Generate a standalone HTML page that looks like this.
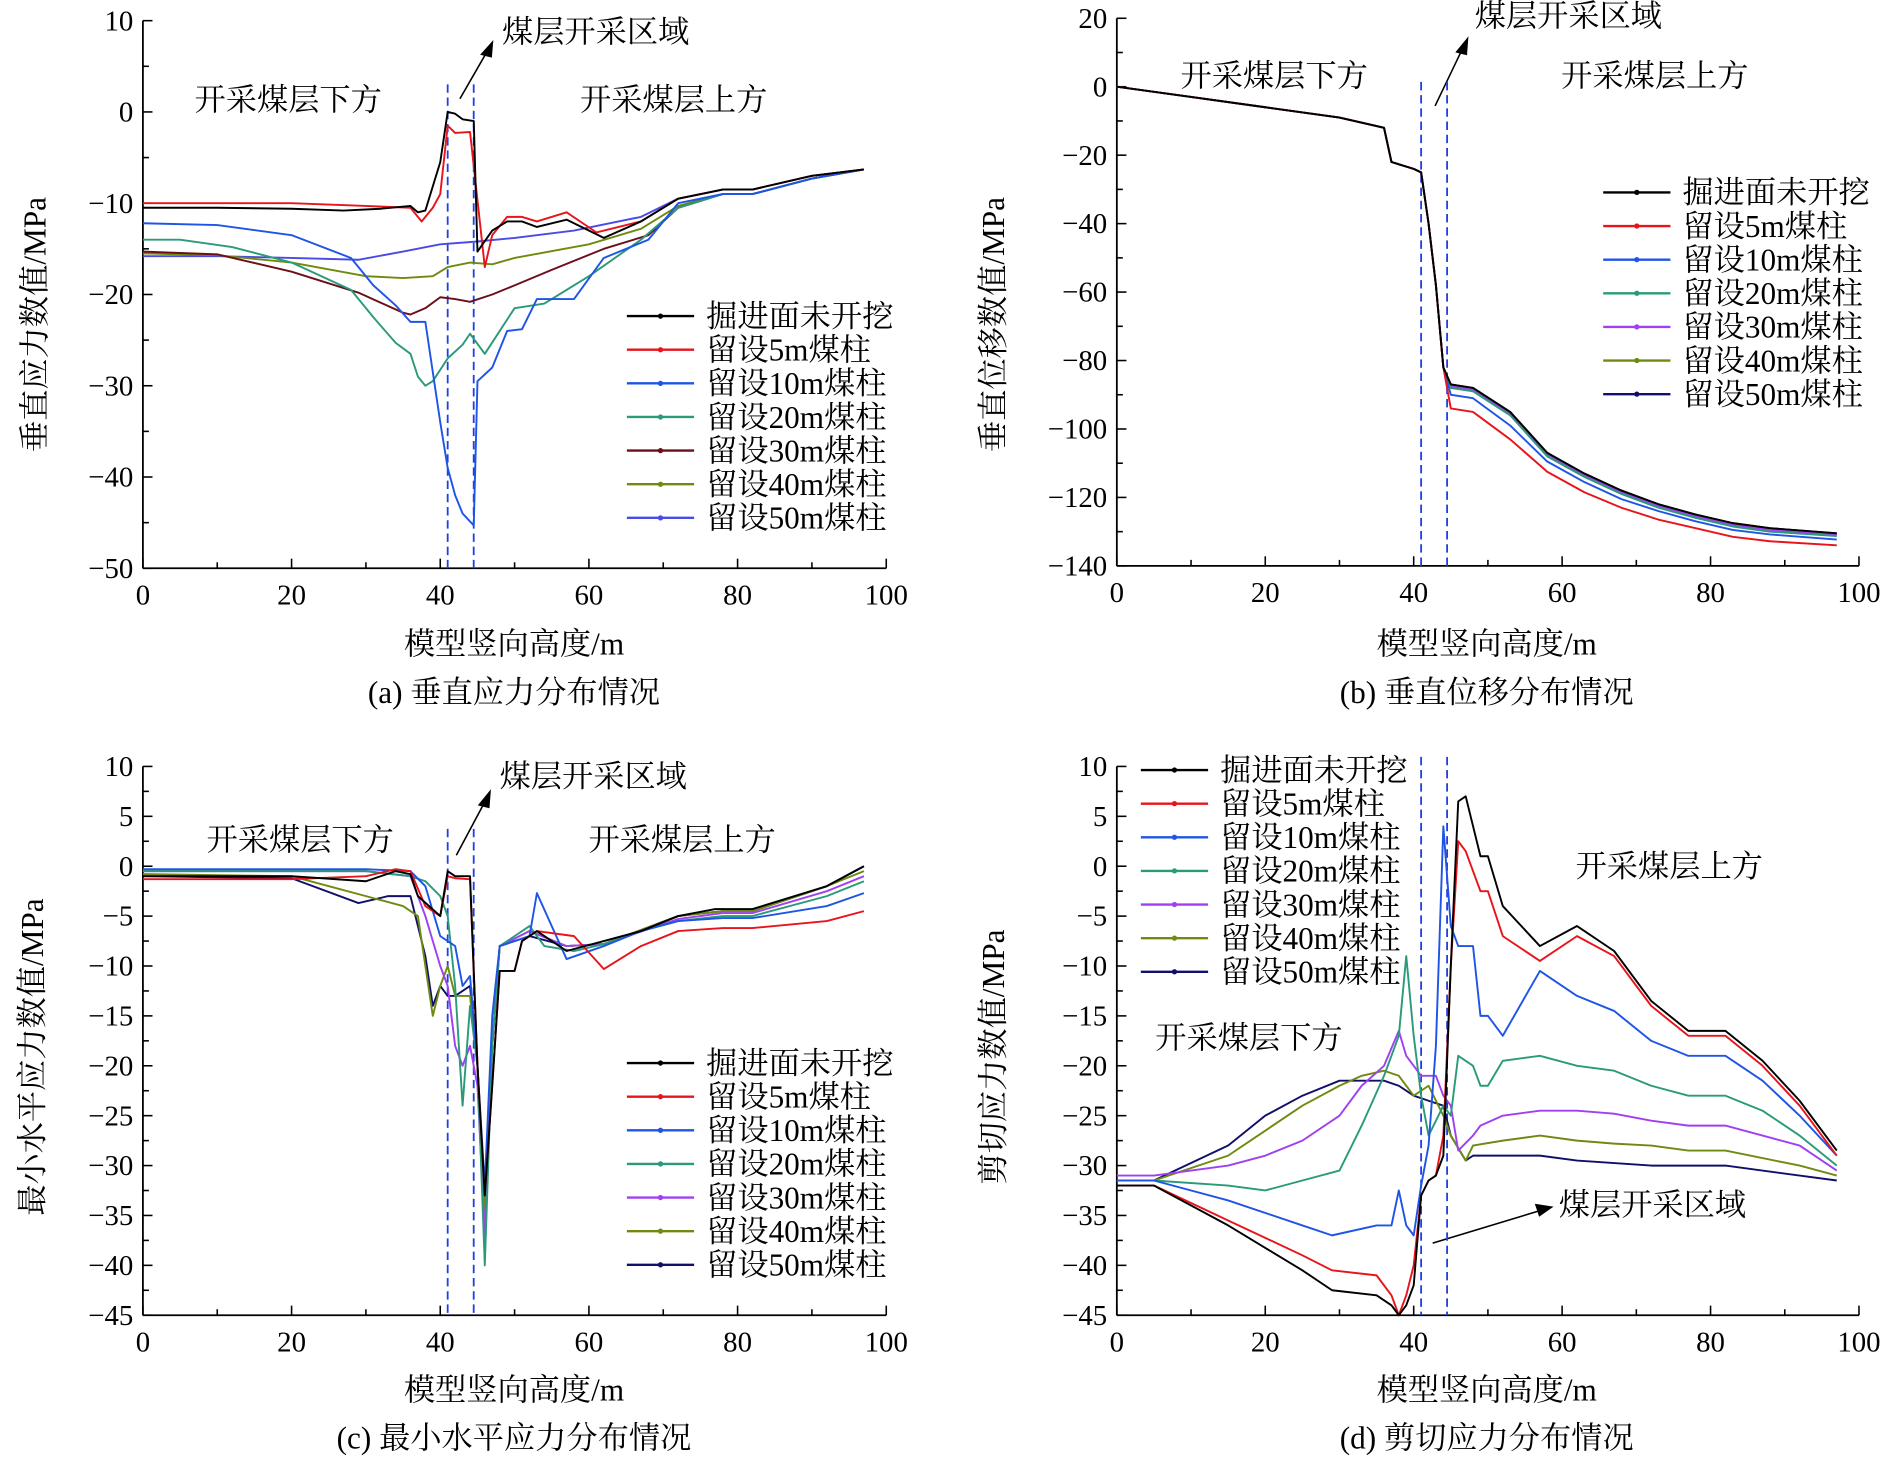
<!DOCTYPE html>
<html><head><meta charset="utf-8">
<style>
html,body{margin:0;padding:0;background:#fff;}
svg{display:block;}
text{font-family:"Liberation Serif","Noto Serif CJK SC","Noto Sans CJK SC",serif;fill:#000;}
</style></head>
<body>
<svg id="s" width="1883" height="1462" viewBox="0 0 1568 1217" xmlns="http://www.w3.org/2000/svg">
<rect width="1568" height="1217" fill="#fff"/>
<g font-size="26">
<text x="428" y="545" text-anchor="middle">模型竖向高度/m</text>
<text x="428" y="585" text-anchor="middle">(a) 垂直应力分布情况</text>
<text x="1238" y="545" text-anchor="middle">模型竖向高度/m</text>
<text x="1238" y="585" text-anchor="middle">(b) 垂直位移分布情况</text>
<text x="428" y="1166" text-anchor="middle">模型竖向高度/m</text>
<text x="428" y="1206" text-anchor="middle">(c) 最小水平应力分布情况</text>
<text x="1238" y="1166" text-anchor="middle">模型竖向高度/m</text>
<text x="1238" y="1206" text-anchor="middle">(d) 剪切应力分布情况</text>
<text transform="translate(38,270) rotate(-90)" text-anchor="middle">垂直应力数值/MPa</text>
<text transform="translate(836,270) rotate(-90)" text-anchor="middle">垂直位移数值/MPa</text>
<text transform="translate(36,880) rotate(-90)" text-anchor="middle">最小水平应力数值/MPa</text>
<text transform="translate(836,880) rotate(-90)" text-anchor="middle">剪切应力数值/MPa</text>
<text x="162" y="92">开采煤层下方</text>
<text x="483" y="92">开采煤层上方</text>
<text x="418" y="35">煤层开采区域</text>
<text x="983" y="72">开采煤层下方</text>
<text x="1300" y="72">开采煤层上方</text>
<text x="1228" y="22">煤层开采区域</text>
<text x="172" y="708">开采煤层下方</text>
<text x="490" y="708">开采煤层上方</text>
<text x="416" y="655">煤层开采区域</text>
<text x="1312" y="730">开采煤层上方</text>
<text x="962" y="873">开采煤层下方</text>
<text x="1298" y="1012">煤层开采区域</text>
</g>
<g stroke="#000" stroke-width="1.3" fill="none">
<line x1="383" y1="82" x2="406" y2="42"/><path d="M410,35 L401,45 L409,47 Z" fill="#000"/>
<line x1="1195" y1="88" x2="1218" y2="40"/><path d="M1222,32 L1213,43 L1221,45 Z" fill="#000"/>
<line x1="380" y1="712" x2="404" y2="667"/><path d="M408,659 L399,670 L407,672 Z" fill="#000"/>
<line x1="1193" y1="1035" x2="1282" y2="1008"/><path d="M1292,1005 L1279,1003 L1282,1012 Z" fill="#000"/>
</g>
<g id="plots"></g>
</svg>
<script>
var NS="http://www.w3.org/2000/svg",P=document.getElementById("plots");
function el(t,a,txt){var e=document.createElementNS(NS,t);for(var k in a)e.setAttribute(k,a[k]);if(txt!=null)e.textContent=txt;P.appendChild(e);return e;}
var C={k:"#000",r:"#e8141b",b:"#1f55e6",t:"#2a9a7a",p:"#a040f0",m:"#6b0f1a",o:"#6f8a10",n:"#10106b",v:"#4a4ae6"};
var names=["掘进面未开挖","留设5m煤柱","留设10m煤柱","留设20m煤柱","留设30m煤柱","留设40m煤柱","留设50m煤柱"];
function panel(cfg){
 var X=function(v){return cfg.x0+(cfg.x1-cfg.x0)*v/100;};
 var Y=function(v){return cfg.yt+(cfg.yb-cfg.yt)*(cfg.ymax-v)/(cfg.ymax-cfg.ymin);};
 el("line",{x1:cfg.x0,y1:cfg.yt,x2:cfg.x0,y2:cfg.yb,stroke:"#000","stroke-width":1.5});
 el("line",{x1:cfg.x0,y1:cfg.yb,x2:cfg.x1,y2:cfg.yb,stroke:"#000","stroke-width":1.5});
 for(var v=0;v<=100;v+=10){var x=X(v);el("line",{x1:x,y1:cfg.yb,x2:x,y2:cfg.yb-(v%20?5:8),stroke:"#000","stroke-width":1.3});
  if(v%20==0)el("text",{x:x,y:cfg.yb+30,"text-anchor":"middle","font-size":24},""+v);}
 var st=cfg.step;
 for(var v=cfg.ymin;v<=cfg.ymax+1e-9;v+=st/2){var y=Y(v);var maj=Math.abs(Math.round(v/st)*st-v)<1e-6;
  el("line",{x1:cfg.x0,y1:y,x2:cfg.x0+(maj?8:5),y2:y,stroke:"#000","stroke-width":1.3});
  if(maj)el("text",{x:cfg.x0-8,y:y+8,"text-anchor":"end","font-size":24},(v<0?"\u2212"+(-v):""+v));}
 [41,44.5].forEach(function(d){el("line",{x1:X(d),y1:cfg.dt,x2:X(d),y2:cfg.yb,stroke:"#1f3fe6","stroke-width":1.5,"stroke-dasharray":"7,4"});});
 cfg.series.forEach(function(s){
  var pts=s[1].map(function(p){return X(p[0]).toFixed(1)+","+Y(p[1]).toFixed(1);}).join(" ");
  el("polyline",{points:pts,fill:"none",stroke:C[s[0]],"stroke-width":1.6,"stroke-linejoin":"round"});
 });
 for(var i=0;i<7;i++){var y=cfg.ly+i*28;var c=C[cfg.lc[i]];
  el("line",{x1:cfg.lx,y1:y,x2:cfg.lx+56,y2:y,stroke:c,"stroke-width":2});
  el("circle",{cx:cfg.lx+28,cy:y,r:2.2,fill:c});
  el("text",{x:cfg.lx+66,y:y+9,"font-size":26},names[i]);}
}
panel({x0:119,x1:738,yt:17,yb:473,ymin:-50,ymax:10,step:10,dt:70,lx:522,ly:263,lc:["k","r","b","t","m","o","v"],series:[
["v",[[0,-15.8],[10,-15.8],[20,-16],[29,-16.2],[35,-15.3],[40,-14.5],[45,-14.2],[50,-13.8],[58,-13],[67,-11.5],[72,-9.5],[78,-8.5],[82,-8.5],[90,-7],[97,-6.3]]],
["o",[[0,-15.5],[10,-15.7],[20,-16.5],[30,-18],[35,-18.2],[39,-18],[41,-17],[44,-16.5],[47,-16.7],[50,-16],[60,-14.5],[67,-12.8],[72,-10.3],[78,-9],[82,-9],[90,-7.3],[97,-6.3]]],
["m",[[0,-15.3],[10,-15.6],[20,-17.5],[29,-19.8],[35,-22],[36,-22.2],[38,-21.5],[40,-20.3],[42,-20.5],[44,-20.8],[47,-20],[50,-19],[55,-17.3],[62,-15],[68,-13.5],[72,-10.5],[78,-9],[82,-9],[90,-7.3],[97,-6.3]]],
["t",[[0,-14],[5,-14],[12,-14.8],[20,-16.5],[28,-19.5],[31,-22.5],[34,-25.3],[36,-26.5],[37,-29],[38,-30],[39,-29.5],[41,-27],[43,-25.5],[44,-24.3],[46,-26.5],[50,-21.5],[54,-21],[60,-18],[67,-14],[72,-10.5],[78,-9],[82,-9],[90,-7.3],[97,-6.3]]],
["b",[[0,-12.2],[10,-12.4],[20,-13.5],[28,-16],[31,-19],[34,-21.2],[36,-23],[38,-23],[40,-34],[41,-39],[42,-42],[43,-44],[44.5,-45.3],[45,-29.5],[47,-28],[49,-24],[51,-23.8],[53,-20.5],[56,-20.5],[58,-20.5],[62,-16],[68,-14],[72,-10],[78,-9],[82,-9],[90,-7.3],[97,-6.3]]],
["r",[[0,-10],[10,-10],[20,-10],[30,-10.3],[36,-10.5],[37.5,-12],[39,-10.5],[40,-9],[41,-1.5],[42,-2.3],[44,-2.2],[46,-17],[47,-13.5],[49,-11.5],[51,-11.5],[53,-12],[57,-11],[61,-13.2],[67,-12],[72,-9.5],[78,-8.5],[82,-8.5],[90,-7],[97,-6.3]]],
["k",[[0,-10.5],[10,-10.5],[20,-10.6],[27,-10.8],[32,-10.6],[36,-10.3],[37,-11],[38,-10.8],[40,-5.5],[41,0],[42,-0.2],[43,-0.8],[44.5,-1],[45,-15.3],[47,-13],[49,-12],[51,-12],[53,-12.6],[57,-11.8],[62,-13.8],[67,-12],[72,-9.5],[78,-8.5],[82,-8.5],[90,-7],[97,-6.3]]]
]});
function bser(dv){var a=[[0,0],[10,-3],[20,-6],[30,-9],[35,-11.5],[36,-12],[37,-22],[40,-24],[41,-25],[42,-40],[43,-58],[44,-82]];
 var b=[[45,-87],[48,-88],[53,-95],[58,-107],[63,-113],[68,-118],[73,-122],[78,-125],[83,-127.5],[88,-129],[97,-130.5]];
 return a.concat(b.map(function(p,i){return [p[0],p[1]-dv[i]];}));}
panel({x0:930,x1:1548,yt:15,yb:471,ymin:-140,ymax:20,step:20,dt:68,lx:1335,ly:160,lc:["k","r","b","t","p","o","n"],series:[
["n",bser([0,0,0,0,0,0,0,0,0,0,0])],["o",bser([0,0,0,0,0,0,0,0,0,0,0.3])],["p",bser([0.5,0.5,0.5,0.5,0.5,0.5,0.5,0.5,0.5,0.5,0.5])],
["t",bser([1,1,1,1,1,1,1,1,1,1,0.8])],["b",bser([3,3,4,2.5,2.5,2.5,2,2,2,1.8,1.8])],
["r",bser([7,7,8,5.5,5.5,5,4.5,4,4,3.8,3.5])],["k",bser([0,0,0,0,0,0,0,0,0,0,0])]]});
panel({x0:119,x1:738,yt:638,yb:1095,ymin:-45,ymax:10,step:5,dt:690,lx:522,ly:885,lc:["k","r","b","t","p","o","n"],series:[
["n",[[0,-1],[20,-1.2],[29,-3.7],[33,-3],[36,-3],[38,-9],[39,-14],[40,-12],[41,-13],[42,-13],[44,-12],[45,-20],[46,-35],[47,-18],[48,-8],[52,-7],[57,-8],[62,-7.8],[72,-5],[78,-4.5],[82,-4.5],[92,-2],[97,0]]],
["o",[[0,-0.8],[20,-1],[30,-3],[35,-4],[37,-5],[38,-10],[39,-15],[40,-12],[41,-10],[42,-13],[44,-13],[45,-20],[46,-35],[47,-18],[48,-8],[52,-6.5],[57,-8],[62,-7.8],[72,-5],[78,-4.5],[82,-4.5],[92,-2],[97,-0.5]]],
["p",[[0,-0.5],[30,-0.5],[36,-1],[38,-5],[40,-10],[41,-12],[42,-18],[43,-20],[44,-18],[45,-22],[46,-37],[47,-18],[48,-8],[52,-6.5],[57,-8],[62,-7.8],[72,-5.3],[78,-4.7],[82,-4.7],[92,-2.5],[97,-1]]],
["t",[[0,-0.5],[30,-0.5],[36,-1],[38,-1.5],[40,-3],[41,-5],[42,-12],[43,-24],[44,-14],[45,-20],[46,-40],[47,-18],[48,-8],[50,-7],[52,-6],[54,-8],[58,-8.5],[62,-7.8],[67,-6.5],[72,-5.5],[78,-5],[82,-5],[92,-3],[97,-1.5]]],
["b",[[0,-0.3],[20,-0.3],[30,-0.3],[36,-0.5],[38,-2],[40,-7],[42,-8],[43,-12],[44,-11],[45,-20],[46,-32],[47,-15],[48,-8],[50,-7.5],[52,-7],[53,-2.7],[55,-6],[57,-9.3],[62,-8],[67,-6.5],[72,-5.5],[78,-5.2],[82,-5.2],[92,-4],[97,-2.7]]],
["r",[[0,-1.3],[20,-1.3],[30,-1],[34,-0.3],[36,-0.5],[38,-4],[40,-5],[41,-1],[42,-1.2],[44,-1.3],[45,-20],[46,-33],[47,-22],[48,-10.5],[50,-10.5],[51,-7.5],[53,-6.5],[58,-7],[62,-10.3],[67,-8],[72,-6.5],[78,-6.2],[82,-6.2],[92,-5.5],[97,-4.5]]],
["k",[[0,-1],[20,-1],[30,-1.5],[34,-0.5],[36,-0.8],[37,-3],[40,-5],[41,-0.5],[42,-1],[44,-1],[45,-20],[46,-33],[47,-22],[48,-10.5],[50,-10.5],[51,-7.5],[53,-6.5],[57,-8.5],[62,-7.5],[67,-6.5],[72,-5],[77,-4.3],[82,-4.3],[92,-2],[97,0]]]
]});
panel({x0:930,x1:1548,yt:638,yb:1095,ymin:-45,ymax:10,step:5,dt:630,lx:950,ly:641,lc:["k","r","b","t","p","o","n"],series:[
["n",[[0,-31.5],[5,-31.5],[15,-28],[20,-25],[25,-23],[30,-21.5],[33,-21.5],[36,-21.5],[38,-22],[40,-23],[42,-23.5],[44,-24],[45,-27],[47,-29.5],[48,-29],[52,-29],[57,-29],[62,-29.5],[72,-30],[82,-30],[92,-31],[97,-31.5]]],
["o",[[0,-31.5],[5,-31.5],[15,-29],[20,-26.5],[25,-24],[30,-22],[33,-21],[36,-20.5],[38,-21],[40,-23],[42,-22],[44,-25],[45,-27],[47,-29.5],[48,-28],[52,-27.5],[57,-27],[62,-27.5],[67,-27.8],[72,-28],[77,-28.5],[82,-28.5],[92,-30],[97,-31]]],
["p",[[0,-31],[5,-31],[15,-30],[20,-29],[25,-27.5],[30,-25],[33,-22],[36,-20],[38,-16.5],[39,-19],[41,-21],[43,-21],[44,-23],[45,-24],[46,-28.5],[48,-27],[49,-26],[52,-25],[57,-24.5],[62,-24.5],[67,-24.8],[72,-25.5],[77,-26],[82,-26],[92,-28],[97,-30.5]]],
["t",[[0,-31.5],[5,-31.5],[15,-32],[20,-32.5],[25,-31.5],[30,-30.5],[33,-26],[36,-21],[38,-17],[39,-9],[40,-17],[41,-23],[42,-27],[44,-24],[45,-25],[46,-19],[48,-20],[49,-22],[50,-22],[52,-19.5],[57,-19],[62,-20],[67,-20.5],[72,-22],[77,-23],[82,-23],[87,-24.5],[92,-27],[97,-30]]],
["b",[[0,-31.5],[5,-31.5],[15,-33.5],[25,-36],[29,-37],[35,-36],[37,-36],[38,-32.5],[39,-36],[40,-37],[41,-32],[42,-28],[43,-18],[44,4],[45,-6],[46,-8],[48,-8],[49,-15],[50,-15],[52,-17],[57,-10.5],[62,-13],[67,-14.5],[72,-17.5],[77,-19],[82,-19],[87,-21.5],[92,-25],[97,-29]]],
["r",[[0,-32],[5,-32],[15,-35.5],[25,-39],[29,-40.5],[35,-41],[37,-43],[38,-45],[39,-43],[40,-40],[41,-33],[42,-31.5],[43,-31],[44,-27],[45,-10],[46,2.5],[47,1.5],[49,-2.5],[50,-2.5],[52,-7],[57,-9.5],[62,-7],[67,-9],[72,-14],[77,-17],[82,-17],[87,-20],[92,-24],[97,-29]]],
["k",[[0,-32],[5,-32],[15,-36],[25,-40.5],[29,-42.5],[35,-43],[37,-44],[38,-45],[39,-44],[40,-42],[41,-33],[42,-31.5],[43,-31],[44,-29],[45,-10],[46,6.5],[47,7],[49,1],[50,1],[52,-4],[57,-8],[62,-6],[67,-8.5],[72,-13.5],[77,-16.5],[82,-16.5],[87,-19.5],[92,-23.5],[97,-28.5]]]
]});
</script>
</body></html>
